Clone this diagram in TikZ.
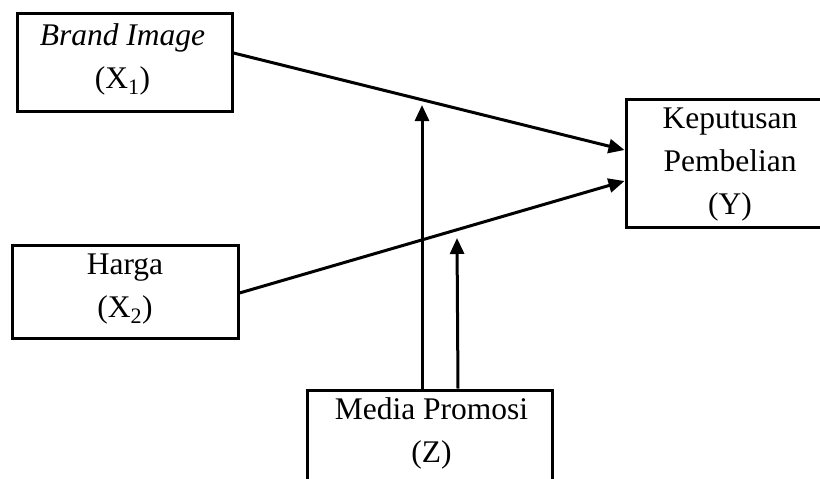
\documentclass[tikz,border=0pt]{standalone}
\usepackage{fontspec}
\setmainfont{Liberation Serif}
\usetikzlibrary{arrows.meta}
\tikzset{
  box/.style={draw, line width=3pt, rectangle, inner sep=0pt},
  txt/.style={align=center, inner sep=0pt, font=\fontsize{31.5}{43}\selectfont},
  conn/.style={line width=3pt, -{Triangle[length=16pt,width=14pt]}}
}
\begin{document}
\begin{tikzpicture}[x=1pt,y=-1pt]
\useasboundingbox (0,0) rectangle (820,479);
\clip (0,0) rectangle (820,479);
% boxes
\node[box, minimum width=215pt, minimum height=98pt] (x1) at (124.5,62) {};
\node[box, minimum width=226pt, minimum height=93pt] (x2) at (125,291.5) {};
\node[box, minimum width=208pt, minimum height=128pt] (y) at (730,163) {};
\node[box, minimum width=245pt, minimum height=140pt] (z) at (429.5,460) {};
% texts
\node[txt] (x1t) at (122.5,59) {\textit{Brand Image}\\(X\textsubscript{1})};
\node[txt] (x2t) at (125,289) {Harga\\(X\textsubscript{2})};
\node[txt] (yt) at (730,165) {Keputusan\\Pembelian\\(Y)};
\node[txt] (zt) at (431.5,433) {Media Promosi\\(Z)};
% connectors
\draw[conn] ([yshift=9pt]x1.east) -- ([yshift=13pt]y.west);
\draw[conn] ([yshift=-1.5pt]x2.east) -- ([yshift=-18pt]y.west);
\coordinate (m1) at (422,105);
\coordinate (m2) at (457,238);
\draw[conn] ([xshift=-7.5pt]z.north) -- (m1);
\draw[conn] ([xshift=28.5pt]z.north) -- (m2);
\end{tikzpicture}
\end{document}
